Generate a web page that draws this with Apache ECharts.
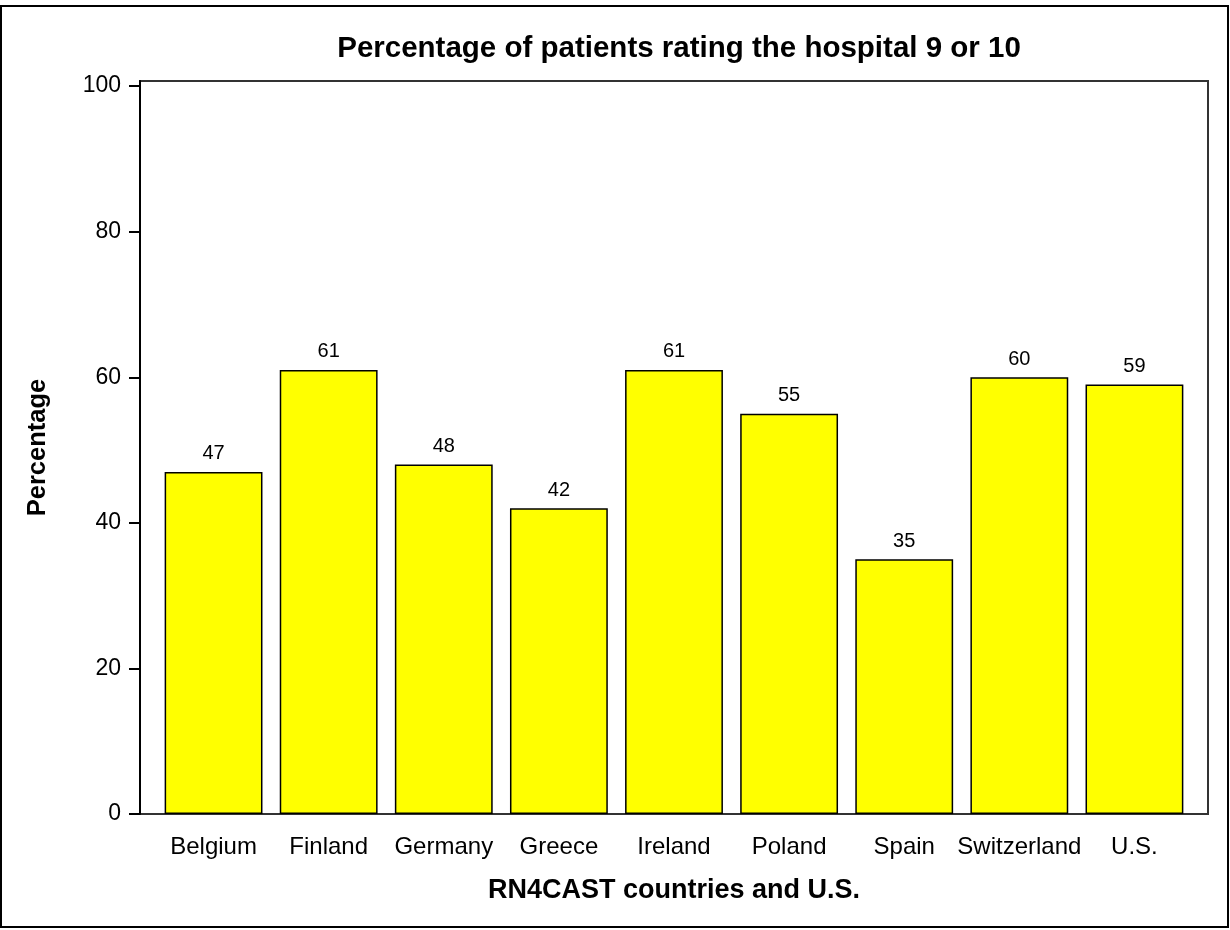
<!DOCTYPE html>
<html lang="en">
<head>
<meta charset="UTF-8">
<title>Percentage of patients rating the hospital 9 or 10</title>
<style>
	html, body { margin: 0; padding: 0; background: #fff; }
</style>
</head>
<body>

	<div id="main" style="width: 1230px; height: 930px;"></div>

	<script src="https://cdn.jsdelivr.net/npm/echarts@6/dist/echarts.min.js"></script>
	<script type="text/javascript">
		// data
		var countries = ['Belgium', 'Finland', 'Germany', 'Greece', 'Ireland', 'Poland', 'Spain', 'Switzerland', 'U.S.'];
		var percentages = [47, 61, 48, 42, 61, 55, 35, 60, 59];
		var yTicks = [0, 20, 40, 60, 80, 100];

		var font = 'Liberation Sans, Arial, sans-serif';
		var myChart = echarts.init(document.getElementById('main'));

		var option = {
			backgroundColor: '#fff',
			animation: false,
			textStyle: { fontFamily: font, color: '#000' },
			title: {
				text: 'Percentage of patients rating the hospital 9 or 10',
				left: 674,
				textAlign: 'center',
				top: 29,
				textStyle: { fontFamily: font, fontSize: 29.5, fontWeight: 'bold', color: '#000' }
			},
			// outer frame of the whole picture
			graphic: [{
				type: 'rect',
				shape: { x: 1, y: 6, width: 1227, height: 921 },
				style: { fill: 'none', stroke: '#000', lineWidth: 2 },
				silent: true
			}],
			grid: [
				// frame of the plot area
				{ left: 140, right: 22, top: 81, bottom: 116, show: true, borderColor: '#333', borderWidth: 2, backgroundColor: 'transparent' },
				// bars (inset so the first and last category leave a gap)
				{ left: 156, right: 38, top: 81, bottom: 116 }
			],
			xAxis: [
				{ gridIndex: 0, type: 'value', show: false, min: 0, max: 1 },
				{
					gridIndex: 1,
					type: 'category',
					data: countries,
					name: 'RN4CAST countries and U.S.',
					nameLocation: 'middle',
					nameGap: 63,
					nameTextStyle: { fontFamily: font, fontSize: 27, fontWeight: 'bold', color: '#000' },
					axisLine: { show: false },
					axisTick: { alignWithLabel: true, length: 10, lineStyle: { color: '#000', width: 2 } },
					axisLabel: { interval: 0, margin: 21, fontFamily: font, fontSize: 24, color: '#000' }
				}
			],
			yAxis: [
				{ gridIndex: 0, type: 'value', show: false, min: 0, max: 1 },
				{
					gridIndex: 1,
					type: 'value',
					min: 0,
					max: 100.7,
					offset: 16,
					name: 'Percentage',
					nameLocation: 'middle',
					nameGap: 89,
					nameTextStyle: { fontFamily: font, fontSize: 25.5, fontWeight: 'bold', color: '#000' },
					splitLine: { show: false },
					axisLine: { show: true, lineStyle: { color: '#000', width: 2 } },
					axisTick: { show: true, length: 11, customValues: yTicks, lineStyle: { color: '#000', width: 2 } },
					axisLabel: { margin: 19, customValues: yTicks, fontFamily: font, fontSize: 23, color: '#000' }
				}
			],
			series: [{
				name: 'Percentage',
				type: 'bar',
				xAxisIndex: 1,
				yAxisIndex: 1,
				data: percentages,
				barCategoryGap: '15%',
				itemStyle: { color: '#ffff00', borderColor: '#000', borderWidth: 1.5 },
				label: {
					show: true,
					position: 'top',
					distance: 8,
					fontFamily: font,
					fontSize: 20,
					color: '#000'
				}
			}]
		};

		myChart.setOption(option);
	</script>
</body>
</html>
